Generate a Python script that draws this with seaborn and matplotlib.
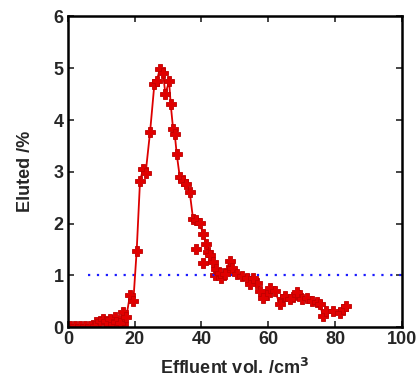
import matplotlib
matplotlib.use("Agg")
import matplotlib.pyplot as plt
import seaborn as sns
import pandas as pd

# Main elution curve
vol = [0.5, 2.0, 3.5, 5.0, 6.5, 8.0, 9.5, 10.5, 11.5, 12.5, 13.5, 14.5, 15.5, 16.5, 17.5,
       18.6, 19.6, 20.6, 21.6, 22.5, 23.3, 24.6, 25.9, 26.6, 27.5, 28.5, 29.2, 30.3, 30.8,
       31.5, 32.0, 32.6, 33.5, 34.5, 35.5, 36.5, 37.5, 38.5, 39.5, 40.5, 41.5, 42.5, 43.5,
       44.5, 45.5, 47.0, 48.5, 49.2, 50.5, 52.0, 53.5, 54.5, 55.5, 57.5, 58.5, 60.5, 62.0,
       63.5, 65.0, 66.5, 68.5, 70.0, 71.5, 73.0, 74.5, 75.5, 76.4, 77.4, 79.4, 81.4, 82.4, 83.4]
eluted = [0.02, 0.02, 0.03, 0.02, 0.03, 0.02, 0.12, 0.15, 0.12, 0.15, 0.05, 0.10, 0.08, 0.30, 0.20,
          0.62, 0.50, 1.47, 2.82, 3.05, 2.98, 3.76, 4.69, 4.75, 4.98, 4.90, 4.50, 4.75, 4.30,
          3.83, 3.73, 3.34, 2.90, 2.82, 2.76, 2.60, 2.08, 2.06, 2.01, 1.79, 1.60, 1.40, 1.25,
          1.12, 1.05, 1.02, 1.28, 1.15, 1.02, 0.99, 0.94, 0.83, 0.94, 0.70, 0.57, 0.76, 0.70,
          0.44, 0.60, 0.54, 0.67, 0.54, 0.57, 0.51, 0.48, 0.44, 0.21, 0.31, 0.31, 0.28, 0.34, 0.41]

# Scattered extra measurements
extra_vol = [8.5, 12.0, 14.0, 16.5, 38.5, 40.5, 42.0, 44.0, 46.0, 48.0, 56.5, 59.5, 64.0, 67.5, 69.0]
extra_eluted = [0.10, 0.05, 0.20, 0.05, 1.51, 1.24, 1.45, 1.00, 0.95, 1.10, 0.85, 0.62, 0.55, 0.58, 0.62]

# Reference level
ref_x = [6, 100]
ref_y = [1, 1]

x_ticks = [0, 20, 40, 60, 80, 100]
y_ticks = [0, 1, 2, 3, 4, 5, 6]

sns.set_style("ticks")
plt.rcParams['font.family'] = ['Liberation Sans', 'DejaVu Sans']

fig = plt.figure(figsize=(4.19, 3.83), dpi=100)
ax = fig.add_axes([0.162, 0.146, 0.797, 0.811])

df = pd.DataFrame({"vol": vol, "eluted": eluted})
dfe = pd.DataFrame({"vol": extra_vol, "eluted": extra_eluted})
dfr = pd.DataFrame({"vol": ref_x, "eluted": ref_y})

sns.lineplot(data=dfr, x="vol", y="eluted", ax=ax, color="#1a1aff",
             linestyle=(0, (1, 3)), linewidth=1.6)
sns.lineplot(data=df, x="vol", y="eluted", ax=ax, sort=False, color="#dd0000",
             linewidth=1.3, marker="P", markersize=6.5, markerfacecolor="#e00000",
             markeredgecolor="#c00000", markeredgewidth=0.6)
sns.scatterplot(data=dfe, x="vol", y="eluted", ax=ax, marker="P", s=44,
                color="#e00000", edgecolor="#c00000", linewidth=0.6)

ax.set_xlim(0, 100)
ax.set_ylim(0, 6)
ax.set_xticks(x_ticks)
ax.set_yticks(y_ticks)
ax.tick_params(direction="in", length=4, width=1.2, top=True, right=True,
               labelsize=13, pad=3)
for lab in ax.get_xticklabels() + ax.get_yticklabels():
    lab.set_fontweight("bold")
for sp in ax.spines.values():
    sp.set_linewidth(1.8)
    sp.set_color("black")

ax.set_xlabel("Effluent vol. /cm$^{\\mathbf{3}}$", fontsize=13, fontweight="bold", labelpad=7)
ax.set_ylabel("Eluted /%", fontsize=13, fontweight="bold", labelpad=14)

fig.savefig("out.png", dpi=100)
